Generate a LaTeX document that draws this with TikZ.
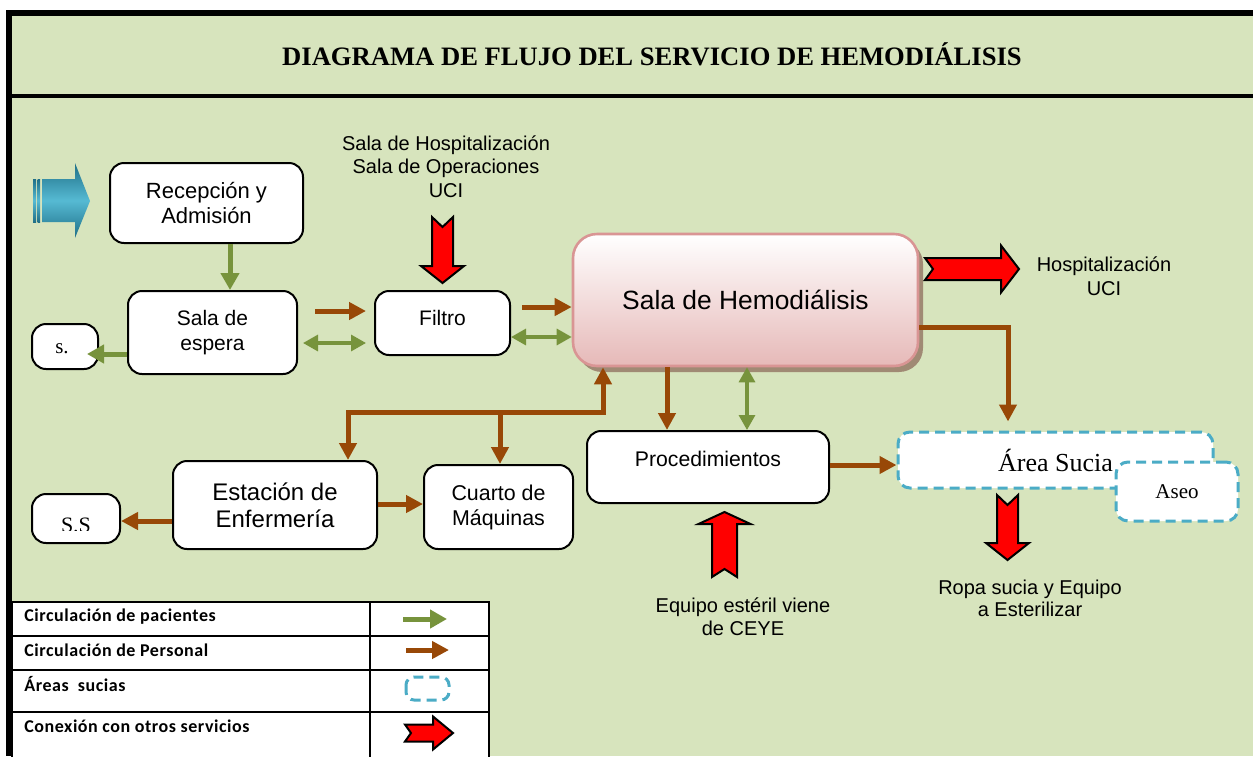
\documentclass[tikz,border=0pt]{standalone}
\usepackage{fontspec}
\setmainfont{Liberation Sans}
\newfontfamily\serifF{Liberation Serif}
\newfontfamily\legF[LetterSpace=3]{Carlito}
\usetikzlibrary{arrows.meta,shadows,calc}
\definecolor{bg}{HTML}{D7E4BD}
\definecolor{gr}{HTML}{77933C}
\definecolor{br}{HTML}{984807}
\definecolor{dblue}{HTML}{4BACC6}
\definecolor{pinkb}{HTML}{D99594}
\definecolor{pinkf}{HTML}{E6B9B8}
\definecolor{shad}{HTML}{A08A74}
\definecolor{teal1}{HTML}{1F6F87}
\definecolor{teal2}{HTML}{56BAD3}
\newcommand\fsz[2]{\fontsize{#1}{#2}\selectfont}
\newcommand\notchArrow[8]{%
  \begin{scope}[shift={(#1,#2)},rotate=#3]
    \draw[redarr] (0,-#5) -- ({#4-#7},-#5) -- ({#4-#7},-#6) -- (#4,0) -- ({#4-#7},#6) -- ({#4-#7},#5) -- (0,#5) -- (#8,0) -- cycle;
  \end{scope}}
\begin{document}
\begin{tikzpicture}[x=0.5pt,y=-0.5pt,
  box/.style={draw=black,line width=1pt,rounded corners=7pt,fill=white,align=center,inner sep=0pt},
  dbox/.style={draw=dblue,line width=1.5pt,dash pattern=on 5pt off 3pt,rounded corners=6pt,fill=white,inner sep=0pt},
  garrow/.style={draw=gr,line width=2.5pt,-{Triangle[length=8.5pt,width=9pt]}},
  gboth/.style={draw=gr,line width=1.6pt,{Triangle[length=7.5pt,width=8pt]}-{Triangle[length=7.5pt,width=8pt]}},
  barrow/.style={draw=br,line width=2.5pt,-{Triangle[length=8.5pt,width=8.5pt]}},
  bboth/.style={draw=br,line width=2.5pt,{Triangle[length=8.5pt,width=8.5pt]}-{Triangle[length=8.5pt,width=8.5pt]}},
  redarr/.style={fill=red,draw=black,line width=1pt,line join=miter},
  lbl/.style={align=center,inner sep=0pt},
  legtxt/.style={anchor=west,inner sep=0pt,font=\legF\bfseries\fsz{9}{10.5}},
  hemo/.style={draw=pinkb,line width=1.3pt,rounded corners=12pt,top color=white,bottom color=pinkf,
    minimum width=172.5pt,minimum height=66pt,inner sep=0pt,font=\fsz{13.2}{15},
    drop shadow={shadow xshift=2.5pt,shadow yshift=-3pt,fill=shad,opacity=1}}
]
\useasboundingbox (0,0) rectangle (1253,756);
% background and frame
\fill[white] (0,0) rectangle (1253,756);
\fill[bg] (9,13) rectangle (1253,756);
\draw[line width=3pt] (6,13) -- (1253,13);
\draw[line width=3pt] (9,11) -- (9,756);
\draw[line width=2pt] (9,96) -- (1253,96);
\node[font=\serifF\bfseries\fsz{13.3}{16}] (title) at (652,54) {DIAGRAMA DE FLUJO DEL SERVICIO DE HEMODIÁLISIS};

% entry arrow (blue)
\shade[top color=teal1,bottom color=teal1,middle color=teal2] (33,179) rectangle (36,222);
\shade[top color=teal1,bottom color=teal1,middle color=teal2] (37.5,179) rectangle (40,222);
\shade[top color=teal1,bottom color=teal1,middle color=teal2] (42,179) -- (75,179) -- (75,163) -- (90,201) -- (75,238) -- (75,222) -- (42,222) -- cycle;

% nodes
\node[box,minimum width=96.5pt,minimum height=40pt,font=\fsz{11}{12.5}] (recep) at (206.5,203) {Recepción y\\Admisión};
\node[box,minimum width=84.5pt,minimum height=41.5pt,font=\fsz{10.5}{12.5}] (espera) at (212.5,332.5) {Sala de\\espera};
\node[box,minimum width=33pt,minimum height=22.5pt] (s1) at (65,346.5) {};
\node[font=\serifF\fsz{10.5}{12},inner sep=0pt] (s1t) at (62,349) {s.};
\node[box,minimum width=67.5pt,minimum height=32pt] (filtro) at (442.5,323) {};
\node[font=\fsz{10.5}{12},inner sep=0pt] (filtrot) at (442.5,318) {Filtro};
\node[hemo] (hemo) at (745.5,300) {Sala de Hemodiálisis};
\node[box,minimum width=121pt,minimum height=36pt] (proc) at (708,467) {};
\node[font=\fsz{10.6}{12},inner sep=0pt] (proct) at (708,459) {Procedimientos};
\node[box,minimum width=102pt,minimum height=44pt,font=\fsz{12}{13.5}] (est) at (275,505) {Estación de\\Enfermería};
\node[box,minimum width=74.5pt,minimum height=42pt,font=\fsz{10.7}{12.5}] (cuarto) at (498.5,507) {Cuarto de\\Máquinas};
\node[box,minimum width=44pt,minimum height=24.5pt] (ss) at (76,518.5) {};
\begin{scope}
  \clip (ss.north west) rectangle ([yshift=-5.75pt]ss.east);
  \node[font=\serifF\fsz{11}{12},inner sep=0pt] (sst) at ([yshift=-3.25pt]ss.center) {S.S};
\end{scope}
\node[dbox,minimum width=157.5pt,minimum height=28pt,font=\serifF\fsz{13}{15}] (sucia) at (1055.5,460) {Área Sucia};
\node[dbox,minimum width=61pt,minimum height=29.5pt,font=\serifF\fsz{10.5}{12}] (aseo) at (1177,491.5) {Aseo};

% labels
\node[lbl,font=\fsz{10}{11.75}] (src) at (446,166.5) {Sala de Hospitalización\\Sala de Operaciones\\UCI};
\node[lbl,font=\fsz{10}{12}] (hosp) at (1104,276) {Hospitalización\\UCI};
\node[lbl,font=\fsz{10}{11}] (ropa) at (1030,598) {Ropa sucia y Equipo\\a Esterilizar};
\node[lbl,font=\fsz{10}{11.5}] (ceye) at (743,616.5) {Equipo estéril viene\\de CEYE};

% red connection arrows
\notchArrow{442.5}{217}{-90}{66}{10.5}{21.5}{17}{10}
\notchArrow{925}{269}{0}{94}{11}{23.5}{18}{8}
\notchArrow{1007.5}{495}{-90}{65}{10.5}{21.5}{17}{10}
\notchArrow{724.5}{577}{90}{65}{12.5}{26}{12}{8}

% connectors
\draw[garrow] ([xshift=11.75pt]recep.south) -- ([xshift=11.75pt]recep.south |- espera.north);
\draw[garrow,shorten >=-6pt] ([yshift=-10.75pt]espera.west) -- ([yshift=-10.75pt]espera.west -| s1.east);
\coordinate (b1) at (315,311);
\draw[barrow,shorten >=4pt] (b1) -- (b1 -| filtro.west);
\coordinate (g1) at (303,343);
\draw[gboth,shorten >=4pt] (g1) -- (g1 -| filtro.west);
\coordinate (b2) at (522,307);
\draw[barrow] (b2) -- (b2 -| hemo.west);
\coordinate (g2) at (510,337);
\draw[gboth] (g2 -| filtro.east) -- (g2 -| hemo.west);
\coordinate (b3) at (667,0);
\draw[barrow] (b3 |- hemo.south) -- (b3 |- proc.north);
\coordinate (g3) at (747,0);
\draw[gboth] (g3 |- hemo.south) -- (g3 |- proc.north);
\coordinate (b4) at (1008,327);
\draw[barrow,shorten >=4.5pt] (b4 -| hemo.east) -| (b4 |- sucia.north);
\coordinate (k1) at (603,412);
\coordinate (k2) at (348,412);
\coordinate (k3) at (500,412);
\draw[bboth] (k2 |- est.north) -- (k2) -- (k1) -- (k1 |- hemo.south);
\draw[barrow] (k3) -- (k3 |- cuarto.north);
\coordinate (b5) at (0,504);
\draw[barrow] (b5 -| est.east) -- (b5 -| cuarto.west);
\coordinate (b6) at (0,521);
\draw[barrow] (b6 -| est.west) -- (b6 -| ss.east);
\coordinate (b7) at (0,465);
\draw[barrow] (b7 -| proc.east) -- (b7 -| sucia.west);

% legend
\draw[line width=0.6pt,fill=white] (12,602) rectangle (489,762);
\draw[line width=0.6pt] (12,636) -- (489,636) (12,670) -- (489,670) (12,712) -- (489,712) (370,602) -- (370,762);
\node[legtxt] (l1) at (24,617) {Circulación de pacientes};
\node[legtxt] (l2) at (24,650) {Circulación de Personal};
\node[legtxt] (l3) at (24,684) {Áreas~ sucias};
\node[legtxt] (l4) at (24,726) {Conexión con otros servicios};
\coordinate (la1) at (403,619); \coordinate (la2) at (447,619);
\draw[garrow] (la1) -- (la2);
\coordinate (lb1) at (406,650); \coordinate (lb2) at (449,650);
\draw[barrow] (lb1) -- (lb2);
\draw[dbox,rounded corners=4pt] (406,677) rectangle (449,700);
\notchArrow{405}{733}{0}{48}{8.5}{16.5}{20}{6}
\end{tikzpicture}
\end{document}
